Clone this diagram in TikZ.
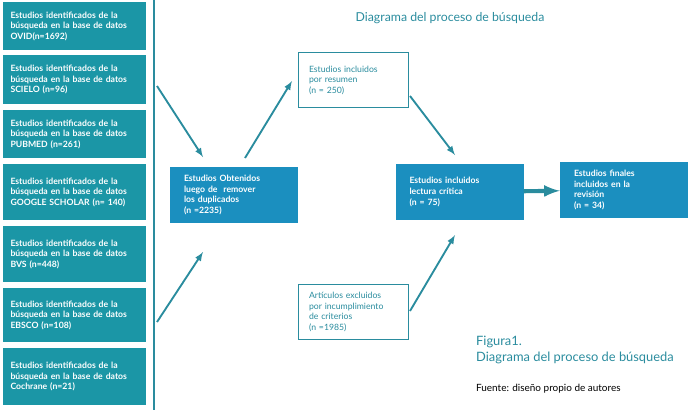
\documentclass[tikz,border=0pt]{standalone}
\usepackage{fontspec}
\setmainfont{Lato}
\usetikzlibrary{positioning}
\definecolor{teal1}{HTML}{1B96A6}
\definecolor{blue1}{HTML}{1B8FBF}
\definecolor{arrowc}{HTML}{2A8C9E}

\begin{document}
\begin{tikzpicture}[x=0.03cm, y=-0.03cm,
	every node/.style = {align=left, font=\fontsize{7.4}{9}\selectfont},
	Src/.style = {fill=teal1, text=white, font=\bfseries\fontsize{7.4}{9}\selectfont,
		minimum width=143*0.03cm, minimum height=#1*0.03cm, text width=128*0.03cm},
	Step/.style = {fill=blue1, text=white, font=\bfseries\fontsize{7.4}{9}\selectfont,
		minimum width=128*0.03cm, minimum height=56*0.03cm, text width=100*0.03cm},
	Side/.style = {draw=arrowc, semithick, text=arrowc,
		minimum width=110*0.03cm, minimum height=55*0.03cm, text width=88*0.03cm},
	Line/.style = {-latex, arrowc, line width=1.6pt}
]
\useasboundingbox (0,0) rectangle (695,413);
% fuentes
\node[Src=48] (ovid)   at (74.5,26)  {Estudios identificados de la\\búsqueda en la base de datos\\OVID(n=1692)};
\node[Src=49] (scielo) at (74.5,79.5) {Estudios identificados de la\\búsqueda en la base de datos\\SCIELO (n=96)};
\node[Src=48] (pubmed) at (74.5,134) {Estudios identificados de la\\búsqueda en la base de datos\\PUBMED (n=261)};
\node[Src=56] (google) at (74.5,192) {Estudios identificados de la\\búsqueda en la base de datos\\GOOGLE SCHOLAR (n= 140)};
\node[Src=56] (bvs)    at (74.5,254) {Estudios identificados de la\\búsqueda en la base de datos\\BVS (n=448)};
\node[Src=54] (ebsco)  at (74.5,315) {Estudios identificados de la\\búsqueda en la base de datos\\EBSCO (n=108)};
\node[Src=57] (coch)   at (74.5,376.5) {Estudios identificados de la\\búsqueda en la base de datos\\Cochrane (n=21)};
\coordinate (top) at (154,0);
\coordinate (bot) at (154,410);
\draw[arrowc, line width=1.5pt] (top) -- (bot);

% proceso
\node[Step] (dup)  at (234,195) {Estudios Obtenidos\\luego de~ remover\\los duplicados\\(n =2235)};
\node[Side] (res)  at (353,80)  {Estudios incluidos\\por resumen\\(n = 250)};
\node[Step] (lect) at (459.5,192) {Estudios incluidos\\lectura crítica\\(n = 75)};
\node[Step] (fin)  at (624,190) {Estudios finales\\incluidos en la\\revisión\\(n = 34)};
\node[Side] (exc)  at (353,312) {Artículos excluidos\\por incumplimiento\\de criterios\\(n =1985)};

\coordinate (a1) at (157,86);
\coordinate (a2) at (157,322);
\coordinate (d1) at (245,158);
\coordinate (r1) at (410,96);
\coordinate (e1) at (410,311);
\draw[Line] (a1) -- (203,157);
\draw[Line] (a2) -- (203,252);
\draw[Line] (d1) -- (292,81);
\draw[Line] (r1) -- (455,155);
\draw[Line] (e1) -- (455,235);
\draw[-latex, arrowc, line width=3.5pt] (lect) -- (fin);

\node[text=arrowc, font=\fontsize{10.5}{12}\selectfont] (title) at (450,18) {Diagrama del proceso de búsqueda};
\node[anchor=west, text=arrowc, font=\fontsize{11}{13}\selectfont] (fig) at (472,350) {Figura1.\\Diagrama del proceso de búsqueda};
\node[anchor=west, font=\fontsize{8.5}{10}\selectfont] (src) at (472,389) {Fuente: diseño propio de autores};
\end{tikzpicture}
\end{document}
